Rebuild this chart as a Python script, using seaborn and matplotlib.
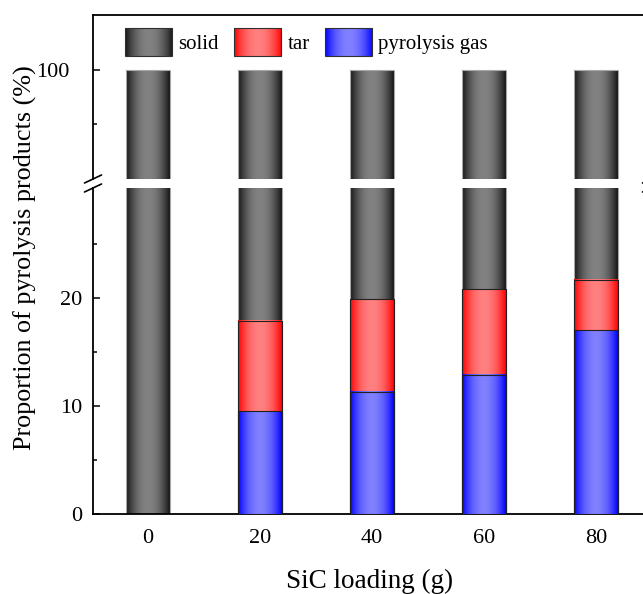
import numpy as np
import matplotlib
matplotlib.use("Agg")
import matplotlib.pyplot as plt
import seaborn as sns
from matplotlib.patches import Patch
from matplotlib.lines import Line2D

# ---------------- data ----------------
loading = ["0", "20", "40", "60", "80"]
gas = [0.0, 9.5, 11.3, 12.9, 17.0]
tar = [0.0, 8.4, 8.6, 7.9, 4.7]
solid = [100.0 - g - t for g, t in zip(gas, tar)]
series_names = ["solid", "tar", "pyrolysis gas"]
lower_major = [0, 10, 20]
lower_minor = [5, 15, 25]
upper_major = [100]
upper_minor = [95]

# ---------------- style ----------------
sns.set_style("ticks")
plt.rcParams["font.family"] = ["Liberation Serif", "DejaVu Serif"]
for k in ["text.color", "axes.labelcolor", "xtick.color", "ytick.color", "axes.edgecolor"]:
    plt.rcParams[k] = "black"

W, H = 643, 594
fig = plt.figure(figsize=(W / 100, H / 100), dpi=100)


def fx(px):
    return px / W


def fy(py):
    return 1 - py / H


LEFT, RIGHT = 93, 651
TOP, BREAK_TOP, BREAK_BOT, BOTTOM = 15, 179, 188, 514
PX_PER_UNIT = 10.8
Y100 = 70

ax_top = fig.add_axes([fx(LEFT), fy(BREAK_TOP), fx(RIGHT - LEFT), fy(TOP) - fy(BREAK_TOP)])
ax_bot = fig.add_axes([fx(LEFT), fy(BOTTOM), fx(RIGHT - LEFT), fy(BREAK_BOT) - fy(BOTTOM)])


def gradient(edge, mid, n=256):
    u = np.linspace(0, 1, n)
    s = 1 - np.abs(2 * u - 1)
    f = 1 - (1 - s) ** 2
    e = np.array(matplotlib.colors.to_rgb(edge))
    m = np.array(matplotlib.colors.to_rgb(mid))
    return (e[None, :] + (m - e)[None, :] * f[:, None])[None, :, :]


colors = {
    "solid": ("#141414", "#828282", "#a8a8a8"),
    "tar": ("#ff0000", "#ff8080", "#202020"),
    "pyrolysis gas": ("#0000ff", "#8080ff", "#202020"),
}

cum_tar = [g + t for g, t in zip(gas, tar)]
cum_solid = [g + t + s for g, t, s in zip(gas, tar, solid)]
layers = [("solid", cum_solid), ("tar", cum_tar), ("pyrolysis gas", gas)]

for ax in (ax_top, ax_bot):
    for k, (name, vals) in enumerate(layers):
        edge, mid, ec = colors[name]
        grad = gradient(edge, mid)
        n0 = len(ax.patches)
        sns.barplot(x=loading, y=vals, order=loading, color=mid, saturation=1,
                    width=0.39, errorbar=None, edgecolor=ec, linewidth=0.8,
                    ax=ax, zorder=2 * k + 2)
        for p in ax.patches[n0:]:
            h = p.get_height()
            if h <= 0:
                p.set_visible(False)
                continue
            x0, w, y0 = p.get_x(), p.get_width(), p.get_y()
            ax.imshow(grad, extent=(x0, x0 + w, y0, y0 + h), aspect="auto",
                      interpolation="bilinear", zorder=2 * k + 1.5)
            p.set_facecolor("none")
    ax.set_xlim(-0.491, 4.491)
    ax.set_xlabel("")
    ax.set_ylabel("")
    for sp in ax.spines.values():
        sp.set_linewidth(1.3)
        sp.set_color("black")

ax_top.set_ylim(100 - (BREAK_TOP - Y100) / PX_PER_UNIT, 100 + (Y100 - TOP) / PX_PER_UNIT)
ax_bot.set_ylim(0, (BOTTOM - BREAK_BOT) / PX_PER_UNIT)

ax_top.spines["bottom"].set_visible(False)
ax_bot.spines["top"].set_visible(False)

ax_top.tick_params(axis="x", bottom=False, labelbottom=False, top=False)
ax_bot.tick_params(axis="x", length=0, labelsize=16, pad=10.5)

ax_top.set_yticks(upper_major)
ax_top.set_yticks(upper_minor, minor=True)
ax_bot.set_yticks(lower_major)
ax_bot.set_yticks(lower_minor, minor=True)
ax_top.tick_params(axis="y", which="major", direction="in", length=5, width=1.1, labelsize=16, pad=17)
ax_bot.tick_params(axis="y", which="major", direction="in", length=5, width=1.1, labelsize=16, pad=8)
for ax in (ax_top, ax_bot):
    ax.tick_params(axis="y", which="minor", direction="in", length=3, width=1.1)
    ax.tick_params(axis="x", which="minor", bottom=False, top=False)

# break marks on the y axes
for xc in (LEFT, RIGHT):
    for yc in (BREAK_TOP, BREAK_BOT):
        fig.add_artist(Line2D([fx(xc - 8.5), fx(xc + 8.5)], [fy(yc + 4), fy(yc - 4)],
                              transform=fig.transFigure, color="black", lw=1.2))

# axis labels
fig.text(fx(25), fy(258), "Proportion of pyrolysis products (%)", rotation=90,
         ha="center", va="center", fontsize=18.8)
fig.text(fx(370), fy(588), "SiC loading (g)", ha="center", va="baseline", fontsize=19.5)

# legend
handles = [Patch(facecolor=colors[n][1], edgecolor="#303030", linewidth=0.8) for n in series_names]
leg = fig.legend(handles, series_names, loc="upper left",
                 bbox_to_anchor=(fx(125), fy(28)), bbox_transform=fig.transFigure,
                 frameon=False, ncol=3, fontsize=15, handlelength=2.27, handleheight=1.7,
                 handletextpad=0.3, columnspacing=0.72, borderpad=0, borderaxespad=0)

fig.canvas.draw()
renderer = fig.canvas.get_renderer()
for p, n in zip(leg.get_patches(), series_names):
    bb = p.get_window_extent(renderer)
    iax = fig.add_axes([bb.x0 / W, bb.y0 / H, bb.width / W, bb.height / H])
    iax.imshow(gradient(colors[n][0], colors[n][1]), aspect="auto", interpolation="bilinear")
    iax.set_axis_off()
    p.set_facecolor("none")

fig.savefig("out.png", dpi=100)
